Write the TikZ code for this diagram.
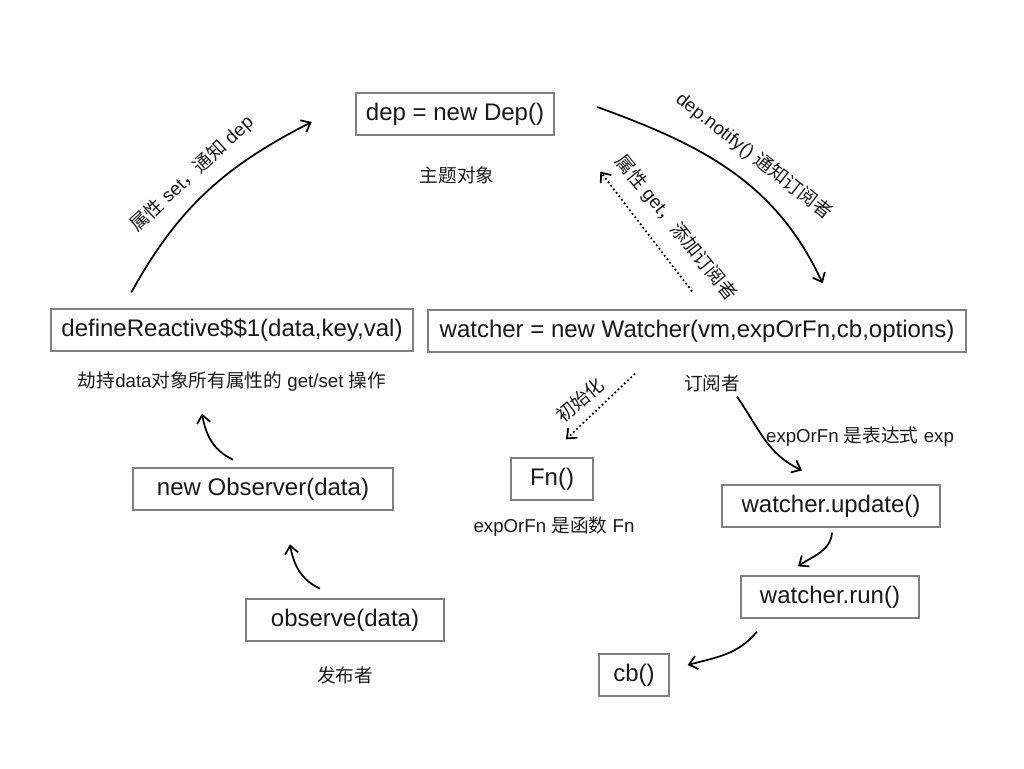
\documentclass[tikz,border=0pt]{standalone}
\usepackage{fontspec}
\setmainfont{Liberation Sans}
\newfontfamily\cjk{Noto Sans CJK SC}
\newcommand{\zh}[1]{{\cjk #1}}
\usetikzlibrary{arrows.meta}

\tikzset{
  box/.style={draw=black!50, line width=1.5pt, minimum height=31pt, inner sep=0pt, text=black!90, font=\fontsize{18}{20}\selectfont},
  note/.style={text=black!90, font=\fontsize{14}{16}\selectfont},
  flow/.style={-{Straight Barb[length=6pt,width=10pt]}, line width=1.3pt},
  hint/.style={flow, dotted},
}

\begin{document}
\begin{tikzpicture}[x=0.75pt,y=0.75pt]
  \useasboundingbox (0,0) rectangle (1024,-768);

  % boxes
  \node[box, minimum width=149pt] (dep) at (455,-114) {dep = new Dep()};
  \node[box, minimum width=271pt] (define) at (232,-330) {defineReactive\$\$1(data,key,val)};
  \node[box, minimum width=403pt] (watcher) at (697,-331) {watcher = new Watcher(vm,expOrFn,cb,options)};
  \node[box, minimum width=195pt, minimum height=32pt] (observer) at (263,-489) {new Observer(data)};
  \node[box, minimum width=148pt, minimum height=32pt] (observe) at (345,-620) {observe(data)};
  \node[box, minimum width=62pt] (fn) at (552,-479) {Fn()};
  \node[box, minimum width=164pt] (update) at (831,-506) {watcher.update()};
  \node[box, minimum width=133pt] (run) at (830,-597) {watcher.run()};
  \node[box, minimum width=52pt] (cb) at (634,-675) {cb()};

  % notes
  \node[note] (depnote) at (457,-175) {\zh{主题对象}};
  \node[note] (definenote) at (232,-382) {\zh{劫持}data\zh{对象所有属性的} get/set \zh{操作}};
  \node[note] (observenote) at (345,-675) {\zh{发布者}};
  \node[note] (watchernote) at (712,-383) {\zh{订阅者}};
  \node[note] (expnote) at (860,-437) {expOrFn \zh{是表达式} exp};
  \node[note] (fnnote) at (554,-527) {expOrFn \zh{是函数} Fn};

  % rotated labels
  \node[note, rotate=43] (setlabel) at (192,-174) {\zh{属性} set\zh{，通知} dep};
  \node[note, rotate=-38] (notifylabel) at (754,-156) {dep.notify() \zh{通知订阅者}};
  \node[note, rotate=-51] (getlabel) at (676,-228) {\zh{属性} get\zh{，添加订阅者}};
  \node[note, rotate=40] (initlabel) at (580,-400) {\zh{初始化}};

  % connectors
  \draw[flow] ([shift={(81,16)}]define.north west) to[out=61, in=207] ([shift={(-43,-8)}]dep.west);
  \draw[flow] ([shift={(42,7)}]dep.east) to[out=-20, in=115] ([shift={(-144,26)}]watcher.north east);
  \draw[hint] ([shift={(-5,18)}]watcher.north) -- ([shift={(45,-36)}]dep.south east);
  \draw[hint] ([shift={(-62,-21)}]watcher.south) -- ([shift={(14,18)}]fn.north);
  \draw[flow] ([shift={(40,-44)}]watcher.south) to[out=-55, in=155] ([shift={(-29,14)}]update.north);
  \draw[flow] ([shift={(1,-5)}]update.south) to[out=-95, in=35] ([shift={(-32,9)}]run.north);
  \draw[flow] ([shift={(-73,-13)}]run.south) to[out=-130, in=15] ([shift={(18,10)}]cb.east);
  \draw[flow] ([shift={(-30,7)}]observer.north) to[out=155, in=-80] ([shift={(-30,-62)}]define.south);
  \draw[flow] ([shift={(-25,9)}]observe.north) to[out=155, in=-80] ([shift={(27,-33)}]observer.south);
\end{tikzpicture}
\end{document}
